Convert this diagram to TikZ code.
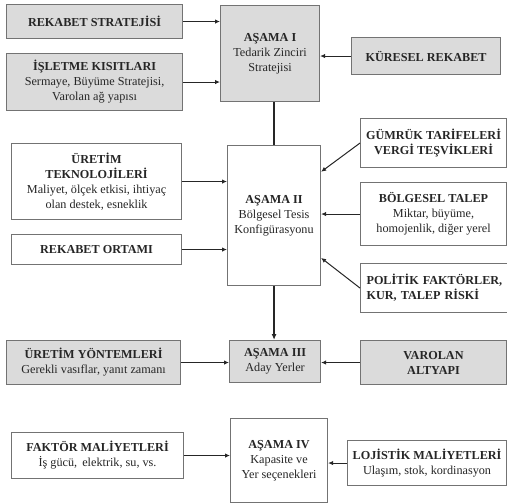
\documentclass[tikz,border=0pt]{standalone}
\usepackage{fontspec}
\setmainfont{Liberation Serif}
\usetikzlibrary{arrows.meta,calc}
\begin{document}
\begin{tikzpicture}[x=1pt,y=-1pt,
  box/.style={draw=black!55, line width=1.1pt, align=center, inner sep=0pt, anchor=north west,
    font=\fontsize{12.2}{15}\selectfont, text=black!85},
  gbox/.style={box, fill=black!14},
  wbox/.style={box, fill=white},
  arr/.style={-{Latex[length=5pt,width=4.5pt]}, line width=1pt, black!85},
  link/.style={line width=2pt, black!85}]
\useasboundingbox (0,0) rectangle (507,503);
\node[gbox, minimum width=176pt, minimum height=34pt] (rs) at (6,4) {\textbf{REKABET STRATEJİSİ}};
\node[gbox, minimum width=176pt, minimum height=57pt] (ik) at (6,53) {\textbf{İŞLETME KISITLARI}\\Sermaye, Büyüme Stratejisi,\\Varolan ağ yapısı};
\node[gbox, minimum width=99pt, minimum height=96pt] (a1) at (220,5) {\textbf{AŞAMA I}\\Tedarik Zinciri\\Stratejisi};
\node[gbox, minimum width=149pt, minimum height=37pt] (kr) at (351,37) {\textbf{KÜRESEL REKABET}};
\node[wbox, minimum width=170pt, minimum height=76pt] (ut) at (11,143) {\textbf{ÜRETİM}\\\textbf{TEKNOLOJİLERİ}\\Maliyet, ölçek etkisi, ihtiyaç\\olan destek, esneklik};
\node[wbox, minimum width=170pt, minimum height=30pt] (ro) at (11,234) {\textbf{REKABET ORTAMI}};
\node[wbox, minimum width=93pt, minimum height=140pt] (a2) at (227,145) {\textbf{AŞAMA II}\\Bölgesel Tesis\\Konfigürasyonu};
\node[wbox, minimum width=146pt, minimum height=49pt] (gt) at (360,118) {\textbf{GÜMRÜK TARİFELERİ}\\\textbf{VERGİ TEŞVİKLERİ}};
\node[wbox, minimum width=146pt, minimum height=63pt] (bt) at (360,182) {\textbf{BÖLGESEL TALEP}\\Miktar, büyüme,\\homojenlik, diğer yerel};
\node[wbox, minimum width=146pt, minimum height=49pt, align=left, text width=140pt, inner xsep=6pt] (pf) at (360,263) {\textbf{POLİTİK FAKTÖRLER,}\\\textbf{KUR, TALEP RİSKİ}};
\node[gbox, minimum width=174pt, minimum height=44pt] (uy) at (6,340) {\textbf{ÜRETİM YÖNTEMLERİ}\\Gerekli vasıflar, yanıt zamanı};
\node[gbox, minimum width=91pt, minimum height=42pt] (a3) at (229,340) {\textbf{AŞAMA III}\\Aday Yerler};
\node[gbox, minimum width=146pt, minimum height=44pt] (va) at (360,340) {\textbf{VAROLAN}\\\textbf{ALTYAPI}};
\node[wbox, minimum width=172pt, minimum height=46pt] (fm) at (11,432) {\textbf{FAKTÖR MALİYETLERİ}\\İş gücü,\, elektrik, su, vs.};
\node[wbox, minimum width=97pt, minimum height=84pt] (a4) at (230,418) {\textbf{AŞAMA IV}\\Kapasite ve\\Yer seçenekleri};
\node[wbox, minimum width=159pt, minimum height=45pt] (lm) at (347,440) {\textbf{LOJİSTİK MALİYETLERİ}\\Ulaşım, stok, kordinasyon};
% connectors
\draw[arr] (rs.east) -- (rs.east -| a1.west);
\draw[arr] (ik.east) -- (ik.east -| a1.west);
\draw[arr] (kr.west) -- (kr.west -| a1.east);
\draw[link] (a2.north |- a1.south) -- (a2.north);
\draw[arr] (ut.east) -- (ut.east -| a2.west);
\draw[arr] (ro.east) -- (ro.east -| a2.west);
\draw[arr] ($(gt.north west)!0.5!(gt.south west)$) -- ($(a2.north east)!0.19!(a2.south east)$);
\draw[arr] (bt.west) -- (bt.west -| a2.east);
\draw[arr] (pf.west) -- ($(a2.north east)!0.8!(a2.south east)$);
\draw[link, -{Latex[length=6pt,width=5pt]}] (a2.south) -- (a2.south |- a3.north);
\draw[arr] (uy.east) -- (uy.east -| a3.west);
\draw[arr] (va.west) -- (va.west -| a3.east);
\draw[arr] (fm.east) -- (fm.east -| a4.west);
\draw[arr] (lm.west) -- (lm.west -| a4.east);
\end{tikzpicture}
\end{document}
